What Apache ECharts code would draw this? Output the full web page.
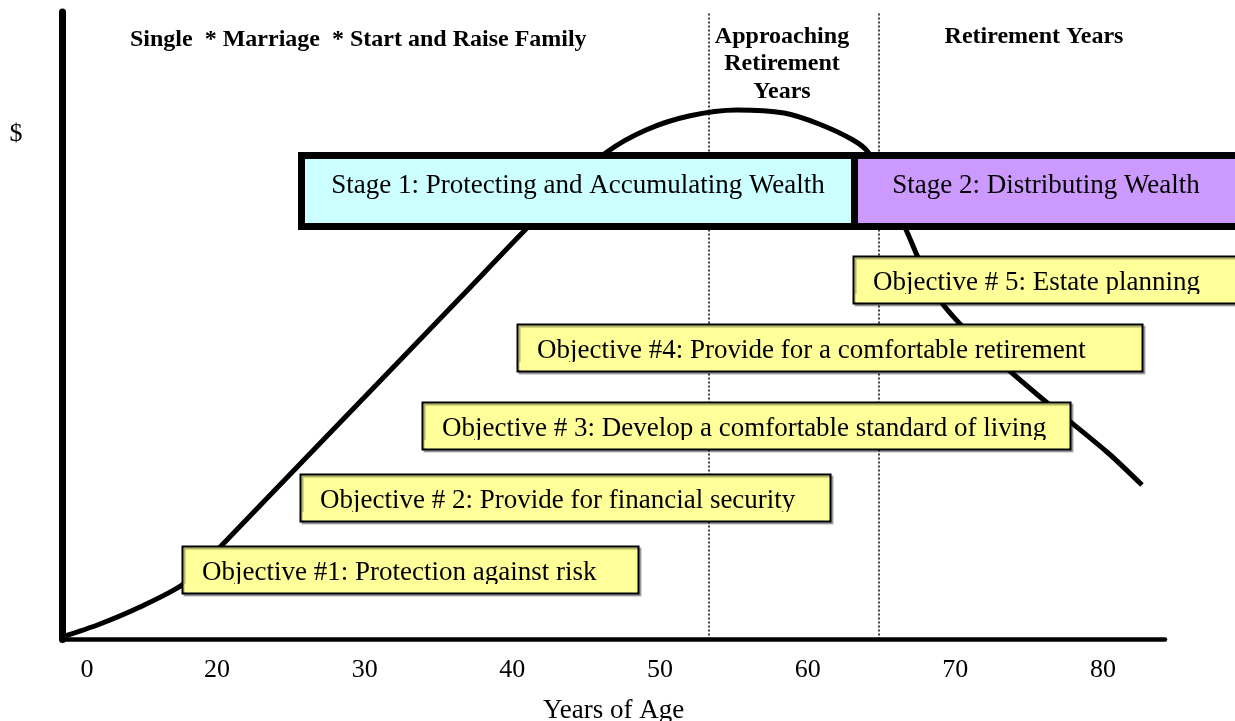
<!DOCTYPE html>
<html>
<head>
<meta charset="utf-8">
<script src="https://cdn.jsdelivr.net/npm/echarts@6/dist/echarts.min.js"></script>
<style>
html, body { margin: 0; padding: 0; background: #fff; }
#divChart { width: 1235px; height: 721px; }
</style>
</head>
<body>
<div id="divChart"></div>
<script>
// wealth curve (age, relative $)
var ages = [9.5, 12.07, 14.78, 17.63, 19.18, 20.34, 25.62, 31.04, 36.45, 40.86, 43.56, 46.41, 49.05, 51.96, 55.21, 58.4, 60.77, 63.07, 64.08, 65.24, 66.73, 67.61, 68.96, 70.32, 72.01, 76.07, 80.27, 82.64];
var wealth = [0.4, 2.47, 5.18, 8.69, 12.19, 15.06, 27.97, 41.2, 54.42, 65.26, 71.63, 77.69, 81.2, 83.43, 84.38, 83.9, 82.15, 79.6, 77.69, 72.43, 64.94, 60.16, 54.1, 50.28, 46.29, 38.01, 29.88, 24.62];

var tickLabels = ['0', '20', '30', '40', '50', '60', '70', '80'];
var tickValues = [11.2, 20, 30, 40, 50, 60, 70, 80];
var phaseBounds = [53.3, 64.8];

var phaseTitles = ['Single  * Marriage  * Start and Raise Family', 'Approaching\nRetirement\nYears', 'Retirement Years'];
var stageTitles = ['Stage 1: Protecting and Accumulating Wealth', 'Stage 2: Distributing Wealth'];
var objectives = [
    'Objective #1: Protection against risk',
    'Objective # 2: Provide for financial security',
    'Objective # 3: Develop a comfortable standard of living',
    'Objective #4: Provide for a comfortable retirement',
    'Objective # 5: Estate planning'
];

var SERIF = "'Liberation Serif', 'Times New Roman', serif";
var myChart;

function buildGraphics() {
    var g = [];
    // phase headings
    g.push({ type: 'text', z: 50, x: 130, y: 40, style: { text: phaseTitles[0], font: 'bold 24px ' + SERIF, fill: '#000', verticalAlign: 'middle' } });
    g.push({ type: 'text', z: 50, x: 782, y: 23, style: { text: phaseTitles[1], font: 'bold 24px ' + SERIF, fill: '#000', align: 'center', verticalAlign: 'top', lineHeight: 27.5 } });
    g.push({ type: 'text', z: 50, x: 1034, y: 37, style: { text: phaseTitles[2], font: 'bold 24px ' + SERIF, fill: '#000', align: 'center', verticalAlign: 'middle' } });
    g.push({ type: 'text', z: 50, x: 16, y: 134, style: { text: '$', font: '26px ' + SERIF, fill: '#000', align: 'center', verticalAlign: 'middle' } });

    // stage bar
    g.push({ type: 'rect', z: 60, shape: { x: 301.5, y: 155.5, width: 553, height: 71 }, style: { fill: '#ccffff', stroke: '#000', lineWidth: 7 } });
    g.push({ type: 'rect', z: 60, shape: { x: 854.5, y: 155.5, width: 400, height: 71 }, style: { fill: '#cc99ff', stroke: '#000', lineWidth: 7 } });
    g.push({ type: 'text', z: 61, x: 578, y: 186, style: { text: stageTitles[0], font: '27px ' + SERIF, fill: '#000', align: 'center', verticalAlign: 'middle' } });
    g.push({ type: 'text', z: 61, x: 1046, y: 186, style: { text: stageTitles[1], font: '27px ' + SERIF, fill: '#000', align: 'center', verticalAlign: 'middle' } });

    // objective boxes (text is cut at the bottom like in the original drawing)
    var boxes = [[182, 546, 456], [300, 474, 530], [422, 402, 648], [517, 324, 625], [853, 256, 400]];
    for (var i = 0; i < objectives.length; i++) {
        var b = boxes[i];
        g.push({
            type: 'rect', z: 70,
            shape: { x: b[0] + 0.5, y: b[1] + 0.5, width: b[2], height: 47 },
            style: { fill: '#ffff99', stroke: '#000', lineWidth: 2, shadowColor: 'rgba(0,0,0,0.3)', shadowOffsetX: 2, shadowOffsetY: 2, shadowBlur: 0 }
        });
        g.push({ type: 'text', z: 71, x: b[0] + 20, y: b[1] + 27, style: { text: objectives[i], font: '27px ' + SERIF, fill: '#000', verticalAlign: 'middle' } });
        g.push({ type: 'rect', z: 72, shape: { x: b[0] + 2.5, y: b[1] + 38, width: b[2] - 4, height: 8 }, style: { fill: '#ffff99' } });
    }
    return g;
}

function initChart() {
    var points = [];
    for (var i = 0; i < ages.length; i++) {
        points.push([ages[i], wealth[i]]);
    }
    var option = {
        animation: false,
        grid: { left: 62, right: 70, top: 12, bottom: 81.5, outerBoundsMode: 'none', containLabel: false },
        xAxis: {
            type: 'value',
            min: 9.5,
            max: 84.2,
            name: 'Years of Age',
            nameLocation: 'middle',
            nameGap: 57.5,
            nameTextStyle: { fontFamily: SERIF, fontSize: 27, color: '#000' },
            axisLine: { show: true, onZero: false, lineStyle: { color: '#000', width: 4.5 } },
            axisTick: { show: false },
            splitLine: { show: false },
            axisLabel: {
                customValues: tickValues,
                margin: 17.5,
                fontFamily: SERIF,
                fontSize: 26,
                color: '#000',
                formatter: function (v) {
                    var best = 0;
                    for (var k = 1; k < tickValues.length; k++) {
                        if (Math.abs(tickValues[k] - v) < Math.abs(tickValues[best] - v)) best = k;
                    }
                    return tickLabels[best];
                }
            }
        },
        yAxis: {
            type: 'value',
            min: 0,
            max: 100,
            axisLine: { show: true, lineStyle: { color: '#000', width: 7 } },
            axisTick: { show: false },
            axisLabel: { show: false },
            splitLine: { show: false }
        },
        series: [{
            type: 'line',
            data: points,
            smooth: 0.3,
            symbol: 'none',
            lineStyle: { color: '#000', width: 5 },
            markLine: {
                silent: true,
                symbol: 'none',
                label: { show: false },
                lineStyle: { color: '#000', type: [2, 2], width: 1.5 },
                data: [{ xAxis: phaseBounds[0] }, { xAxis: phaseBounds[1] }]
            }
        }],
        graphic: buildGraphics()
    };
    myChart.setOption(option);
}

myChart = echarts.init(document.getElementById('divChart'));
initChart();
</script>
</body>
</html>
